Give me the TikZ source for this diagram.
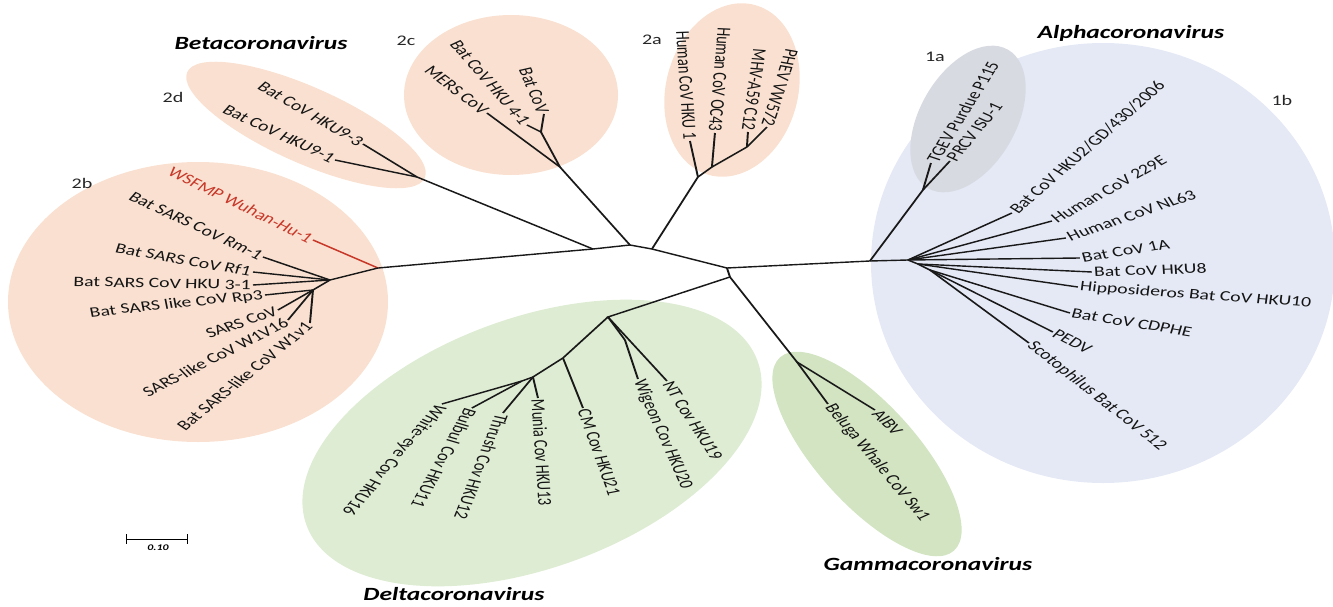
\documentclass[tikz,border=0pt]{standalone}
\usepackage{fontspec}
\setmainfont{Carlito}
\usetikzlibrary{arrows}

\definecolor{betapeach}{RGB}{249,224,208}
\definecolor{deltagreen}{RGB}{222,236,211}
\definecolor{gammagreen}{RGB}{210,228,193}
\definecolor{alphablue}{RGB}{228,233,245}
\definecolor{alphagrey}{RGB}{215,218,225}
\definecolor{wuhanred}{RGB}{200,55,40}

\begin{document}
\begin{tikzpicture}
  [
    x=0.75pt, y=-0.75pt,
    wide/.style={
      transform canvas={xscale=1.37},
      x=0.5474pt,
    },
    branch/.style={
      draw=black!90,
      line width=1.05pt,
    },
    redbranch/.style={
      draw=wuhanred,
      line width=1.05pt,
    },
    leaf/.style={
      font=\fontsize{10.8}{13}\selectfont,
      text=black!92,
      inner sep=1pt,
    },
    redleaf/.style={
      leaf,
      text=wuhanred,
    },
    clade/.style={
      font=\fontsize{11}{13}\selectfont,
      text=black!85,
    },
    genus/.style={
      font=\fontsize{14}{17}\selectfont\bfseries\itshape,
    },
    beta/.style={
      fill=betapeach,
    },
    delta/.style={
      fill=deltagreen,
    },
    gamma/.style={
      fill=gammagreen,
    },
    alpha/.style={
      fill=alphablue,
    }
  ]
\useasboundingbox (0,0) rectangle (1333,606);

% Clade areas
\fill [alpha] (1103,263) ellipse (232 and 220);
\fill [fill=alphagrey, rotate around={60:(968,119)}] (968,119) ellipse (80 and 48);
\fill [beta] (198,302) ellipse (190 and 140);
\fill [beta, rotate around={-24:(306,125)}] (306,125) ellipse (130 and 38);
\fill [beta] (511,95) ellipse (107 and 80);
\fill [beta, rotate around={-15:(732,90)}] (732,90) ellipse (66 and 88);
\fill [delta, rotate around={20:(532,443)}] (532,443) ellipse (240 and 125);
\fill [gamma, rotate around={-48:(867,454)}] (867,454) ellipse (130 and 50);

\begin{scope}[wide]
% Backbone
\coordinate (b2bj) at (378,268);
\coordinate (n1)   at (593,249);
\coordinate (n2)   at (630,245);
\coordinate (n3)   at (652,249);
\coordinate (root) at (727,268);
\coordinate (dg)   at (730,277);
\coordinate (a0)   at (870,261);
\coordinate (a1)   at (908,260);
\draw [branch] (b2bj) -- (n1) -- (n2) -- (n3) -- (root) -- (a0) -- (a1);
\draw [branch] (root) -- (dg);

% 2b
\coordinate (s0) at (330,280);
\coordinate (s1) at (313,290);
\node (wuhan) [redleaf, anchor=east, rotate=-33.7] at (313,240) {WSFMP Wuhan-Hu-1};
\node (rm1)   [leaf, anchor=east, rotate=-32.6]  at (263,257) {Bat SARS CoV Rm-1};
\node (rf1)   [leaf, anchor=east, rotate=-13.6]  at (253,272) {Bat SARS CoV Rf1};
\node (hku31) [leaf, anchor=east, rotate=-1.4]   at (253,285) {Bat SARS CoV HKU 3-1};
\node (rp3)   [leaf, anchor=east, rotate=8.2]    at (265,295) {Bat SARS like CoV Rp3};
\node (sars)  [leaf, anchor=east, rotate=25.3]   at (278,310) {SARS CoV};
\node (w1v16) [leaf, anchor=east, rotate=34.9]   at (288,320) {SARS-like CoV W1V16};
\node (w1v1)  [leaf, anchor=east, rotate=48]     at (310,323) {Bat SARS-like CoV W1v1};
\draw [redbranch] (b2bj) -- (wuhan.east);
\draw [branch] (b2bj) -- (s0) -- (s1);
\draw [branch] (s0) -- (rm1.east);
\draw [branch] (s0) -- (rf1.east);
\draw [branch] (s0) -- (hku31.east);
\draw [branch] (s1) -- (rp3.east);
\draw [branch] (s1) -- (sars.east);
\draw [branch] (s1) -- (w1v16.east);
\draw [branch] (s1) -- (w1v1.east);

% 2d
\coordinate (d2j) at (417,177);
\node (hku93) [leaf, anchor=east, rotate=-38.3] at (363,144) {Bat CoV HKU9-3};
\node (hku91) [leaf, anchor=east, rotate=-32.6] at (335,160) {Bat CoV HKU9-1};
\draw [branch] (n1) -- (d2j);
\draw [branch] (d2j) -- (hku93.east);
\draw [branch] (d2j) -- (hku91.east);

% 2c
\coordinate (c0) at (560,167);
\coordinate (c1) at (541,132);
\node (mers)   [leaf, anchor=east, rotate=-45.9] at (487,113) {MERS CoV};
\node (hku41)  [leaf, anchor=east, rotate=-57.6] at (527,125) {Bat CoV HKU 4-1};
\node (batcov) [leaf, anchor=east, rotate=-72.8] at (544,114) {Bat CoV};
\draw [branch] (n2) -- (c0) -- (c1);
\draw [branch] (c0) -- (mers.east);
\draw [branch] (c1) -- (hku41.east);
\draw [branch] (c1) -- (batcov.east);

% 2a
\coordinate (a2j) at (698,177);
\coordinate (a2k) at (712,167);
\coordinate (a2l) at (747,147);
\node (hku1) [leaf, anchor=east, rotate=-87.1]  at (690,141) {Human CoV HKU 1};
\node (oc43) [leaf, anchor=east, rotate=-93.7]  at (715,133) {Human CoV  OC43};
\node (mhv)  [leaf, anchor=east, rotate=-95.9]  at (748,132) {MHV-A59 C12};
\node (phev) [leaf, anchor=east, rotate=-103.3] at (767,127) {PHEV VW572};
\draw [branch] (n3) -- (a2j) -- (a2k) -- (a2l);
\draw [branch] (a2j) -- (hku1.east);
\draw [branch] (a2k) -- (oc43.east);
\draw [branch] (a2l) -- (mhv.east);
\draw [branch] (a2l) -- (phev.east);

% 1a
\coordinate (a1aj) at (923,190);
\node (tgev) [leaf, anchor=west, rotate=65.5] at (931,163) {TGEV Purdue P115};
\node (prcv) [leaf, anchor=west, rotate=58.5] at (950,161) {PRCV ISU-1};
\draw [branch] (a0) -- (a1aj);
\draw [branch] (a1aj) -- (tgev.west);
\draw [branch] (a1aj) -- (prcv.west);

% 1b
\coordinate (a2) at (918,264);
\coordinate (a3) at (930,270);
\node (hku2)  [leaf, anchor=west, rotate=50]    at (1012,213) {Bat CoV HKU2/GD/430/2006};
\node (e229)  [leaf, anchor=west, rotate=37.2]  at (1052,221) {Human CoV 229E};
\node (nl63)  [leaf, anchor=west, rotate=25.3]  at (1066,238) {Human CoV NL63};
\node (bat1a) [leaf, anchor=west, rotate=12.2]  at (1080,258) {Bat CoV 1A};
\node (hku8)  [leaf, anchor=west, rotate=2.7]   at (1092,272) {Bat CoV HKU8};
\node (hku10) [leaf, anchor=west, rotate=-5.5]  at (1078,287) {Hipposideros Bat CoV HKU10};
\node (cdphe) [leaf, anchor=west, rotate=-12.2] at (1070,313) {Bat CoV CDPHE};
\node (pedv)  [leaf, anchor=west, rotate=-34.9] at (1053,332) {PEDV};
\node (scoto) [leaf, anchor=west, rotate=-46.9] at (1029,343) {Scotophilus Bat CoV 512};
\draw [branch] (a1) -- (a2) -- (a3);
\draw [branch] (a1) -- (hku2.west);
\draw [branch] (a1) -- (e229.west);
\draw [branch] (a1) -- (nl63.west);
\draw [branch] (a1) -- (bat1a.west);
\draw [branch] (a2) -- (hku8.west);
\draw [branch] (a2) -- (hku10.west);
\draw [branch] (a3) -- (cdphe.west);
\draw [branch] (a3) -- (pedv.west);
\draw [branch] (a3) -- (scoto.west);

% Gamma
\coordinate (g0) at (797,362);
\node (aibv)   [leaf, anchor=west, rotate=-53.9] at (875,410) {AIBV};
\node (beluga) [leaf, anchor=west, rotate=-58.5] at (828,404) {Beluga Whale CoV Sw1};
\draw [branch] (dg) -- (g0);
\draw [branch] (g0) -- (aibv.west);
\draw [branch] (g0) -- (beluga.west);

% Delta
\coordinate (d0) at (608,317);
\coordinate (d1) at (625,340);
\coordinate (d2) at (563,358);
\coordinate (d3) at (533,377);
\coordinate (d4) at (522,381);
\node (nt)       [leaf, anchor=west, rotate=-64.6]  at (667,381) {NT Cov HKU19};
\node (wigeon)   [leaf, anchor=west, rotate=-72]    at (638,379) {Wigeon Cov HKU20};
\node (cm)       [leaf, anchor=west, rotate=-75.1]  at (583,408) {CM Cov HKU21};
\node (munia)    [leaf, anchor=west, rotate=-87.1]  at (538,398) {Munia Cov HKU13};
\node (thrush)   [leaf, anchor=west, rotate=-106.4] at (503,413) {Thrush Cov HKU12};
\node (bulbul)   [leaf, anchor=west, rotate=-112]   at (472,408) {Bulbul Cov HKU11};
\node (whiteeye) [leaf, anchor=west, rotate=-122.4] at (442,404) {White-eye Cov HKU16};
\draw [branch] (dg) -- (d0) -- (d1);
\draw [branch] (d0) -- (d2) -- (d3) -- (d4);
\draw [branch] (d0) -- (nt.west);
\draw [branch] (d1) -- (wigeon.west);
\draw [branch] (d2) -- (cm.west);
\draw [branch] (d3) -- (munia.west);
\draw [branch] (d3) -- (thrush.west);
\draw [branch] (d4) -- (bulbul.west);
\draw [branch] (d4) -- (whiteeye.west);

% Clade and genus names
\node (c2a) [clade] at (652,40)  {2a};
\node (c2b) [clade] at (82,183)  {2b};
\node (c2c) [clade] at (406,41)  {2c};
\node (c2d) [clade] at (173,97)  {2d};
\node (c1a) [clade] at (935,57)  {1a};
\node (c1b) [clade] at (1282,100) {1b};
\node (betaname)  [genus] at (261,43)  {Betacoronavirus};
\node (alphaname) [genus] at (1131,33) {Alphacoronavirus};
\node (gammaname) [genus] at (928,564) {Gammacoronavirus};
\node (deltaname) [genus] at (454,594) {Deltacoronavirus};

% Scale
\coordinate (scaleleft)  at (126,539);
\coordinate (scaleright) at (188,539);
\draw [|-|, line width=0.7pt] (scaleleft) -- (scaleright);
\node (scalename) [font=\fontsize{6.5}{8}\selectfont\bfseries\itshape] at (158,548) {0.10};
\end{scope}

\end{tikzpicture}
\end{document}
